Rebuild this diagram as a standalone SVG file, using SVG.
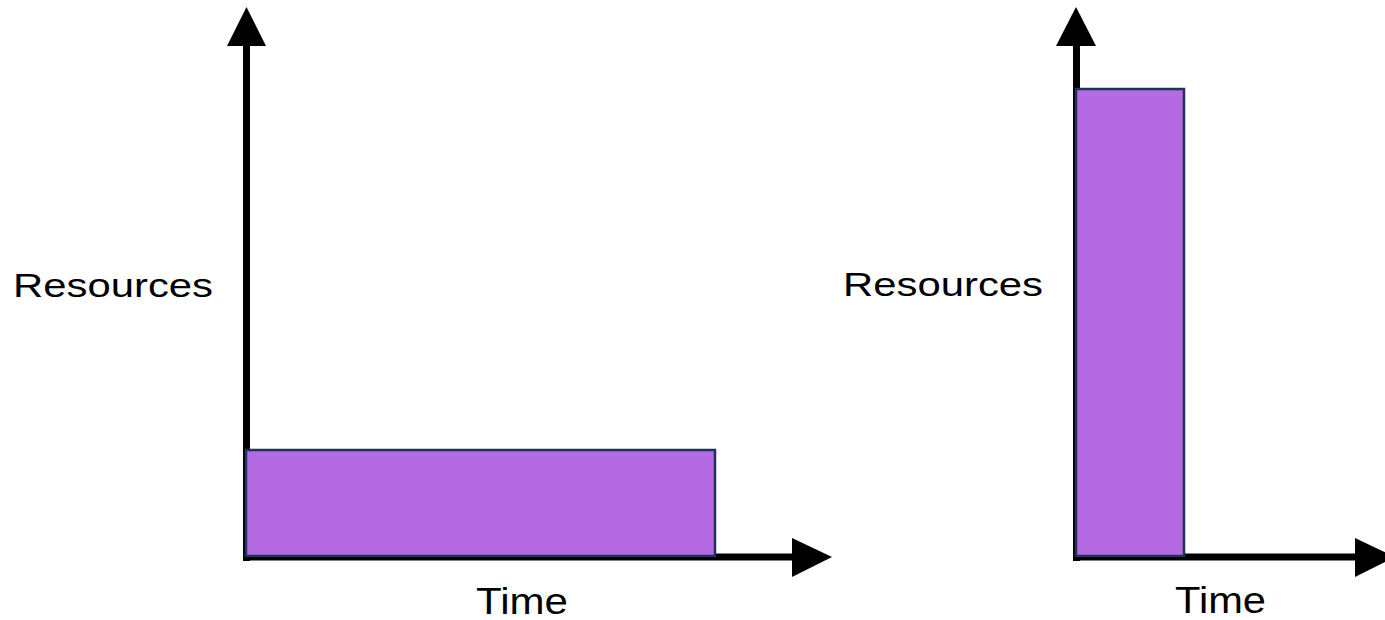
<svg xmlns="http://www.w3.org/2000/svg" width="1385" height="620" viewBox="0 0 1385 620">
<style>
.axis{stroke:#000;stroke-width:7;fill:none}
.head{fill:#000}
.bar{fill:#b36ae2;stroke:#1f3357;stroke-width:2.5}
.lbl{font-family:"Liberation Sans",Arial,sans-serif;fill:#000}
</style>
<rect width="1385" height="620" fill="#fff"/>
<g id="connectors">
<line class="axis" x1="246.5" y1="561" x2="246.5" y2="44"/>
<polygon class="head" points="246.5,7 227,46 266,46"/>
<line class="axis" x1="243" y1="557" x2="795" y2="557"/>
<polygon class="head" points="832,557 792,538 792,577"/>
<line class="axis" x1="1076.5" y1="561" x2="1076.5" y2="44"/>
<polygon class="head" points="1076,7 1056,46 1096,46"/>
<line class="axis" x1="1073" y1="557" x2="1358" y2="557"/>
<polygon class="head" points="1395,557 1355,538 1355,577"/>
</g>
<g id="bar-left"><rect class="bar" x="246" y="450" width="469" height="106"/></g>
<g id="bar-right"><rect class="bar" x="1076" y="89" width="108" height="467"/></g>
<g id="label-res-left"><text class="lbl" x="13" y="297" font-size="33" textLength="200" lengthAdjust="spacingAndGlyphs">Resources</text></g>
<g id="label-time-left"><text class="lbl" x="476" y="614" font-size="36" textLength="92" lengthAdjust="spacingAndGlyphs">Time</text></g>
<g id="label-res-right"><text class="lbl" x="843" y="296" font-size="33" textLength="200" lengthAdjust="spacingAndGlyphs">Resources</text></g>
<g id="label-time-right"><text class="lbl" x="1175" y="613" font-size="36" textLength="91" lengthAdjust="spacingAndGlyphs">Time</text></g>
</svg>
